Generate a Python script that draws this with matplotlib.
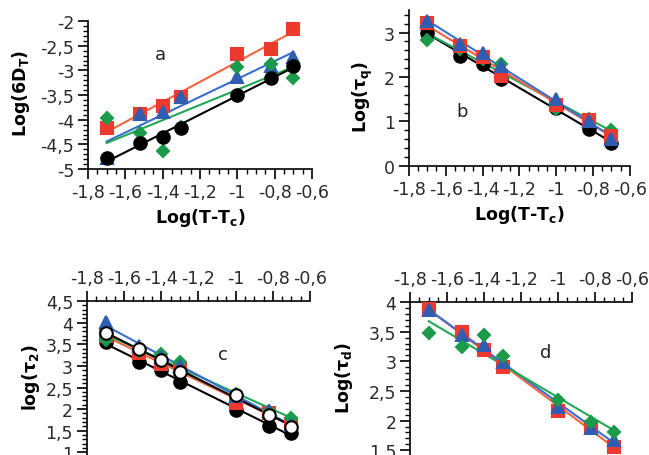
import numpy as np
import matplotlib.pyplot as plt
from matplotlib.ticker import MultipleLocator, FuncFormatter

# log(T-Tc) values shared by all panels
x = [-1.7, -1.52, -1.4, -1.3, -1.0, -0.82, -0.7]

# panel a: Log(6D_T)
a_red = [-4.16, -3.89, -3.72, -3.54, -2.67, -2.56, -2.17]
a_blue = [-4.78, -3.89, -3.84, -3.53, -3.13, -2.92, -2.73]
a_green = [-3.97, -4.27, -4.63, -4.14, -2.93, -2.86, -3.16]
a_black = [-4.78, -4.48, -4.34, -4.17, -3.50, -3.15, -2.92]

# panel b: Log(tau_q)
b_red = [3.22, 2.70, 2.44, 2.03, 1.37, 1.04, 0.68]
b_blue = [3.26, 2.74, 2.55, 2.25, 1.50, 1.00, 0.60]
b_green = [2.84, 2.62, 2.40, 2.29, 1.27, 1.05, 0.80]
b_black = [3.00, 2.48, 2.30, 1.95, 1.30, 0.84, 0.52]

# panel c: log(tau_2)
c_red = [3.70, 3.30, 3.04, 2.92, 2.15, 1.90, 1.65]
c_blue = [4.02, 3.45, 3.20, 3.00, 2.30, 1.95, 1.63]
c_green = [3.60, 3.35, 3.27, 3.10, 2.35, 1.96, 1.79]
c_black = [3.55, 3.10, 2.90, 2.63, 1.98, 1.62, 1.44]
c_open = [3.77, 3.40, 3.13, 2.85, 2.33, 1.87, 1.59]

# panel d: Log(tau_d)
d_red = [3.88, 3.49, 3.19, 2.90, 2.16, 1.90, 1.56]
d_blue = [3.86, 3.44, 3.27, 2.99, 2.23, 1.88, 1.67]
d_green = [3.48, 3.24, 3.44, 3.09, 2.34, 1.98, 1.81]

RED = '#ee3a2e'
RED_LINE = '#f2643f'
BLUE = '#2f5db2'
BLUE_LINE = '#3a6fd0'
GREEN = '#1a9a4a'
GREEN_LINE = '#22a858'

fmt = FuncFormatter(lambda v, p: f"{v:g}".replace('.', ','))


def series(ax, y, color, lcolor, marker, ms, mfc=None, z=3):
    xs = np.array(x)
    ax.plot(xs, y, linestyle='none', marker=marker, ms=ms, color=color,
            mfc=mfc if mfc else color, mec=color, mew=1.5, zorder=z)
    k, b = np.polyfit(xs, y, 1)
    xx = np.array([xs.min(), xs.max()])
    ax.plot(xx, k * xx + b, color=lcolor, lw=1.5, zorder=2)


def style(ax, top, ymin, ymaj):
    ax.set_xlim(-1.8, -0.6)
    ax.xaxis.set_major_locator(MultipleLocator(0.2))
    ax.xaxis.set_minor_locator(MultipleLocator(0.05))
    ax.yaxis.set_major_locator(MultipleLocator(ymaj))
    ax.yaxis.set_minor_locator(MultipleLocator(ymin))
    ax.xaxis.set_major_formatter(fmt)
    ax.yaxis.set_major_formatter(fmt)
    ax.spines['right'].set_visible(False)
    if top:
        ax.spines['bottom'].set_visible(False)
        ax.xaxis.tick_top()
    else:
        ax.spines['top'].set_visible(False)
    for s in ax.spines.values():
        s.set_linewidth(1.2)
    ax.tick_params(which='major', length=7, width=1.2, labelsize=12.5,
                   labelcolor='#2a2a2a', pad=3)
    ax.tick_params(which='minor', length=3.5, width=1.0)


fig = plt.figure(figsize=(6.49, 4.56), dpi=100)

ax_a = fig.add_axes([0.1356, 0.627, 0.345, 0.3246])
ax_b = fig.add_axes([0.630, 0.634, 0.3405, 0.341])
ax_c = fig.add_axes([0.134, 0.0, 0.3436, 0.3377])
ax_d = fig.add_axes([0.632, 0.0, 0.342, 0.3355])

# a
series(ax_a, a_red, RED, RED_LINE, 's', 9)
series(ax_a, a_blue, BLUE, BLUE_LINE, '^', 9)
series(ax_a, a_green, GREEN, GREEN_LINE, 'D', 6)
series(ax_a, a_black, 'black', 'black', 'o', 9)
ax_a.set_ylim(-5, -2)
style(ax_a, False, 0.1, 0.5)
ax_a.text(-1.41, -2.67, 'a', fontsize=13, ha='center', va='center', color='#222222')
ax_a.set_ylabel('Log(6D$_\\mathbf{T}$)', fontsize=12.5, fontweight='bold')
ax_a.yaxis.set_label_coords(-0.25, 0.52)
ax_a.set_xlabel('Log(T-T$_\\mathbf{c}$)', fontsize=12.5, fontweight='bold')
ax_a.xaxis.set_label_coords(0.5, -0.25)

# b
series(ax_b, b_black, 'black', 'black', 'o', 9)
series(ax_b, b_green, GREEN, GREEN_LINE, 'D', 6)
series(ax_b, b_red, RED, RED_LINE, 's', 9)
series(ax_b, b_blue, BLUE, BLUE_LINE, '^', 9)
ax_b.set_ylim(0, 3.5)
style(ax_b, False, 0.2, 1)
ax_b.text(-1.51, 1.24, 'b', fontsize=13, ha='center', va='center', color='#222222')
ax_b.set_ylabel('Log(τ$_\\mathbf{q}$)', fontsize=12.5, fontweight='bold')
ax_b.yaxis.set_label_coords(-0.155, 0.45)
ax_b.set_xlabel('Log(T-T$_\\mathbf{c}$)', fontsize=12.5, fontweight='bold')
ax_b.xaxis.set_label_coords(0.5, -0.24)

# c
series(ax_c, c_black, 'black', 'black', 'o', 9)
series(ax_c, c_red, RED, RED_LINE, 's', 9)
series(ax_c, c_green, GREEN, GREEN_LINE, 'D', 6)
series(ax_c, c_blue, BLUE, BLUE_LINE, '^', 9)
series(ax_c, c_open, 'black', 'black', 'o', 9, mfc='white', z=4)
ax_c.set_ylim(0.94, 4.5)
style(ax_c, True, 0.1, 0.5)
ax_c.text(-1.07, 3.27, 'c', fontsize=13, ha='center', va='center', color='#222222')
ax_c.set_ylabel('log(τ$_\\mathbf{2}$)', fontsize=12.5, fontweight='bold')
ax_c.yaxis.set_label_coords(-0.20, 0.51)

# d
series(ax_d, d_red, RED, RED_LINE, 's', 9)
series(ax_d, d_blue, BLUE, BLUE_LINE, '^', 9)
series(ax_d, d_green, GREEN, GREEN_LINE, 'D', 6)
ax_d.set_ylim(1.42, 4)
style(ax_d, True, 0.1, 0.5)
ax_d.text(-1.07, 3.16, 'd', fontsize=13, ha='center', va='center', color='#222222')
ax_d.set_ylabel('Log(τ$_\\mathbf{d}$)', fontsize=12.5, fontweight='bold')
ax_d.yaxis.set_label_coords(-0.25, 0.51)

fig.savefig('out.png', dpi=100)
